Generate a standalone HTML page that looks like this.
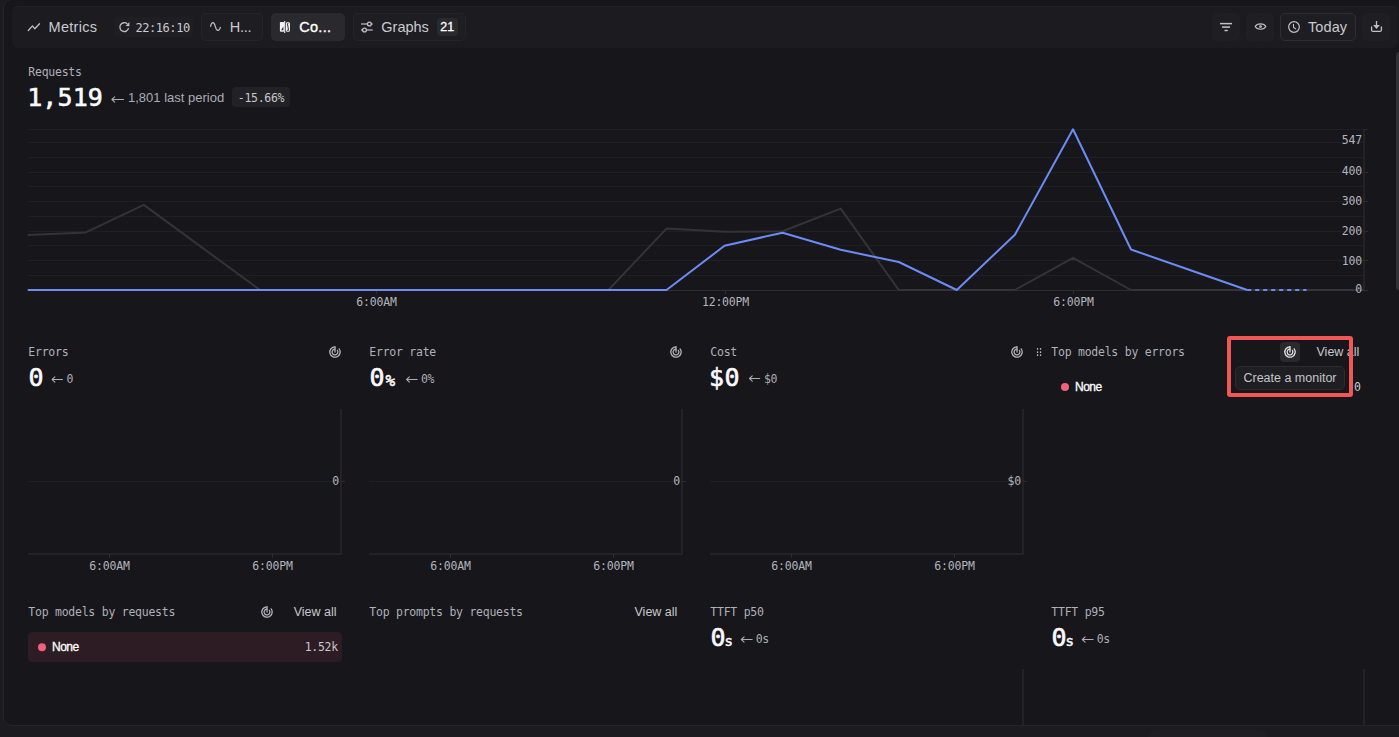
<!DOCTYPE html>
<html><head><meta charset="utf-8">
<style>
*{box-sizing:border-box;margin:0;padding:0}
html,body{width:1399px;height:737px;overflow:hidden;background:#1b1b20;font-family:"Liberation Sans", sans-serif}
.abs{position:absolute}
svg{position:absolute;left:0;top:0}
</style></head><body>
<div class="abs" style="left:3px;top:-1px;width:1410px;height:727px;background:#16161b;border:1px solid #232328;border-radius:9px"></div>
<div class="abs" style="left:12px;top:6px;width:1386px;height:42px;background:#1c1c20;border:1px solid #1c1c20;border-top-color:#212125;border-radius:6px"></div>
<div class="abs" style="left:114px;top:17px;width:79px;height:20px;background:#1f1f23;border-radius:4px;"></div>
<div class="abs" style="left:201px;top:13px;width:62px;height:28px;background:#1e1e22;border:1px solid #252529;border-radius:5px;"></div>
<div class="abs" style="left:271px;top:13px;width:74px;height:28px;background:#2a2a2e;border-radius:5px;"></div>
<div class="abs" style="left:353px;top:13px;width:113px;height:28px;background:#1e1e22;border:1px solid #252529;border-radius:5px;"></div>
<div class="abs" style="left:437px;top:18px;width:21px;height:18px;background:#2a2a2e;border-radius:4px;"></div>
<div class="abs" style="left:1212px;top:13px;width:28px;height:28px;background:#1f1f23;border-radius:5px;"></div>
<div class="abs" style="left:1246px;top:13px;width:28px;height:28px;background:#1f1f23;border-radius:5px;"></div>
<div class="abs" style="left:1280px;top:13px;width:76px;height:28px;background:#1e1e22;border:1px solid #2e2e33;border-radius:5px;"></div>
<div class="abs" style="left:1362px;top:13px;width:28px;height:28px;background:#1f1f23;border-radius:5px;"></div>
<div class="abs" style="left:232px;top:87px;width:58px;height:20px;background:#222226;border-radius:4px;"></div>
<div class="abs" style="left:1280px;top:342px;width:20px;height:20px;background:#2a2a2e;border-radius:4px;"></div>
<div class="abs" style="left:1235px;top:366px;width:110px;height:24px;background:#1f1f23;border:1px solid #2c2c30;border-radius:5px;"></div>
<div class="abs" style="left:28px;top:632px;width:314px;height:30px;background:#2d1c23;border-radius:4px;"></div>
<div class="abs" style="left:1148px;top:730px;width:119px;height:12px;background:#1f1f23;border-radius:6px;"></div>
<div class="abs" style="left:1396px;top:52px;width:6px;height:238px;background:#303035;border-radius:3px;"></div>
<svg width="1399" height="737" viewBox="0 0 1399 737">
<path d="M28.3 30.5 L32.5 25.9 L34.8 28.8 L39.5 23.8" fill="none" stroke="#c0c0c8" stroke-width="1.3" stroke-linecap="round" stroke-linejoin="round"/>
<path d="M128.55 28.2 A4.4 4.4 0 1 1 127.3 23.9" fill="none" stroke="#c0c0c8" stroke-width="1.3"/><path d="M129.4 22.1 L129.4 26.3 L125.6 25.9 Z" fill="#c0c0c8"/>
<path d="M210.6 26.3 C211.8 21.2 214 21.6 215.2 26.2 C216.4 31.4 219.2 31.6 220.3 27.4" fill="none" stroke="#c0c0c8" stroke-width="1.2" stroke-linecap="round"/>
<rect x="279.9" y="21.9" width="4.4" height="9.8" rx="0.9" fill="#f4f4f5"/><path d="M283.4 26.3 L283.4 30.3 L281.2 30.3 Z" fill="#2a2a2e"/><rect x="286.5" y="22.7" width="2.9" height="8.5" rx="0.8" fill="none" stroke="#f4f4f5" stroke-width="1.1"/><path d="M288.7 23.4 L287.4 29.8" stroke="#f4f4f5" stroke-width="0.9"/><line x1="284.7" x2="284.7" y1="20.9" y2="32.9" stroke="#f4f4f5" stroke-width="1.1"/>
<path d="M361 24 H372.7 M361 30 H372.7" stroke="#a0a0a8" stroke-width="1.5"/><circle cx="369.4" cy="24" r="1.9" fill="#1e1e22" stroke="#c0c0c8" stroke-width="1.3"/><circle cx="364.5" cy="30" r="1.9" fill="#1e1e22" stroke="#c0c0c8" stroke-width="1.3"/>
<path d="M1220 23.6 H1232" stroke="#c0c0c8" stroke-width="1.5"/><path d="M1222 27.1 H1230" stroke="#a9a9b1" stroke-width="1.8"/><rect x="1224.3" y="29.7" width="3.6" height="1.5" rx="0.75" fill="#c0c0c8"/>
<path d="M1255.2 26.5 C1257 22.9 1264 22.9 1265.8 26.5 C1264 30.1 1257 30.1 1255.2 26.5 Z" fill="none" stroke="#c0c0c8" stroke-width="1.15"/><circle cx="1260.5" cy="26.5" r="1.5" fill="#a9a9b1"/>
<circle cx="1294" cy="27" r="5.35" fill="none" stroke="#c0c0c8" stroke-width="1.2"/><path d="M1293.5 24.2 V27.3 L1295.7 28.9" fill="none" stroke="#c0c0c8" stroke-width="1.15" stroke-linecap="round" stroke-linejoin="round"/>
<path d="M1371.6 26.6 V29.9 Q1371.6 31.4 1373.1 31.4 H1379.9 Q1381.4 31.4 1381.4 29.9 V26.6" fill="none" stroke="#c0c0c8" stroke-width="1.3"/><path d="M1376.5 21 V26" stroke="#c0c0c8" stroke-width="1.3"/><path d="M1373.2 25.1 L1379.8 25.1 L1376.5 28.9 Z" fill="#c0c0c8"/>
<path d="M123.6 99.5 H111.9 M114.7 96.9 L111.9 99.5 L114.7 102.1" fill="none" stroke="#acacb4" stroke-width="1.05" stroke-linejoin="round" stroke-linecap="round"/>
<line x1="28" x2="1364" y1="129.5" y2="129.5" stroke="#1f1f24" shape-rendering="crispEdges"/>
<line x1="28" x2="1364" y1="142.5" y2="142.5" stroke="#1f1f24" shape-rendering="crispEdges"/>
<line x1="28" x2="1364" y1="157.5" y2="157.5" stroke="#1f1f24" shape-rendering="crispEdges"/>
<line x1="28" x2="1364" y1="172.5" y2="172.5" stroke="#1f1f24" shape-rendering="crispEdges"/>
<line x1="28" x2="1364" y1="186.5" y2="186.5" stroke="#1f1f24" shape-rendering="crispEdges"/>
<line x1="28" x2="1364" y1="201.5" y2="201.5" stroke="#1f1f24" shape-rendering="crispEdges"/>
<line x1="28" x2="1364" y1="216.5" y2="216.5" stroke="#1f1f24" shape-rendering="crispEdges"/>
<line x1="28" x2="1364" y1="231.5" y2="231.5" stroke="#1f1f24" shape-rendering="crispEdges"/>
<line x1="28" x2="1364" y1="245.5" y2="245.5" stroke="#1f1f24" shape-rendering="crispEdges"/>
<line x1="28" x2="1364" y1="260.5" y2="260.5" stroke="#1f1f24" shape-rendering="crispEdges"/>
<line x1="28" x2="1364" y1="275.5" y2="275.5" stroke="#1f1f24" shape-rendering="crispEdges"/>
<g stroke="#2c2c31" stroke-width="1" shape-rendering="crispEdges"><line x1="28" x2="1368" y1="290.5" y2="290.5"/><line x1="1364" x2="1368" y1="129.5" y2="129.5"/><line x1="1364" x2="1368" y1="172.5" y2="172.5"/><line x1="1364" x2="1368" y1="201.5" y2="201.5"/><line x1="1364" x2="1368" y1="231.5" y2="231.5"/><line x1="1364" x2="1368" y1="260.5" y2="260.5"/><line x1="376.5" x2="376.5" y1="290" y2="294"/><line x1="725.5" x2="725.5" y1="290" y2="294"/><line x1="1073.5" x2="1073.5" y1="290" y2="294"/></g>
<line x1="1364" x2="1364" y1="129" y2="291" stroke="#2e2e34"/>
<path d="M27.7 234.9 L85.8 232.4 L143.8 204.9 L201.9 247.4 L260.0 290.0 L318.1 290.0 L376.1 290.0 L434.2 290.0 L492.3 290.0 L550.3 290.0 L608.4 290.0 L666.5 228.6 L724.5 231.8 L782.6 231.2 L840.7 208.6 L898.8 290.0 L956.8 290.0 L1014.9 290.0 L1073.0 257.8 L1131.0 290.0 L1189.1 290.0 L1247.2 290.0 L1305.2 290.0 L1363.3 290.0" fill="none" stroke="#333338" stroke-width="2" stroke-linejoin="round"/>
<path d="M27.7 290.0 L85.8 290.0 L143.8 290.0 L201.9 290.0 L260.0 290.0 L318.1 290.0 L376.1 290.0 L434.2 290.0 L492.3 290.0 L550.3 290.0 L608.4 290.0 L666.5 290.0 L724.5 245.8 L782.6 232.7 L840.7 249.8 L898.8 262.0 L956.8 290.0 L1014.9 234.7 L1073.0 129.3 L1131.0 249.5 L1189.1 269.8 L1247.2 290.0" fill="none" stroke="#6b8cf5" stroke-width="2" stroke-linejoin="round"/>
<path d="M1247.2 290 L1306.5 290" fill="none" stroke="#6b8cf5" stroke-width="2" stroke-dasharray="4 4"/>
<path d="M62.5 379.5 H52.1 M54.9 376.9 L52.1 379.5 L54.9 382.1" fill="none" stroke="#acacb4" stroke-width="1.05" stroke-linejoin="round" stroke-linecap="round"/>
<g transform="translate(329,346)" fill="none" stroke="#b4b4bc" stroke-width="1.25" stroke-linecap="round"><path d="M6 0.8 A5.2 5.2 0 1 0 10.15 2.87"/><path d="M6 3.1 A2.9 2.9 0 1 0 8.38 4.34"/><path d="M6 0.8 V6"/></g>
<line x1="28" x2="341" y1="481.5" y2="481.5" stroke="#1f1f24" shape-rendering="crispEdges"/>
<g stroke="#2e2e34" stroke-width="1"><line x1="28" x2="341" y1="554" y2="554"/><line x1="341" x2="341" y1="409" y2="554.5"/></g>
<g stroke="#2c2c31" stroke-width="1" shape-rendering="crispEdges"><line x1="341" x2="345" y1="481.5" y2="481.5"/><line x1="109.5" x2="109.5" y1="554" y2="558"/><line x1="272.5" x2="272.5" y1="554" y2="558"/></g>
<path d="M417.2 379.5 H406.6 M409.4 376.9 L406.6 379.5 L409.4 382.1" fill="none" stroke="#acacb4" stroke-width="1.05" stroke-linejoin="round" stroke-linecap="round"/>
<g transform="translate(670,346)" fill="none" stroke="#b4b4bc" stroke-width="1.25" stroke-linecap="round"><path d="M6 0.8 A5.2 5.2 0 1 0 10.15 2.87"/><path d="M6 3.1 A2.9 2.9 0 1 0 8.38 4.34"/><path d="M6 0.8 V6"/></g>
<line x1="369" x2="682" y1="481.5" y2="481.5" stroke="#1f1f24" shape-rendering="crispEdges"/>
<g stroke="#2e2e34" stroke-width="1"><line x1="369" x2="682" y1="554" y2="554"/><line x1="682" x2="682" y1="409" y2="554.5"/></g>
<g stroke="#2c2c31" stroke-width="1" shape-rendering="crispEdges"><line x1="682" x2="686" y1="481.5" y2="481.5"/><line x1="450.5" x2="450.5" y1="554" y2="558"/><line x1="613.5" x2="613.5" y1="554" y2="558"/></g>
<path d="M759.7 378.5 H749.5 M752.3 375.9 L749.5 378.5 L752.3 381.1" fill="none" stroke="#acacb4" stroke-width="1.05" stroke-linejoin="round" stroke-linecap="round"/>
<g transform="translate(1011,346)" fill="none" stroke="#b4b4bc" stroke-width="1.25" stroke-linecap="round"><path d="M6 0.8 A5.2 5.2 0 1 0 10.15 2.87"/><path d="M6 3.1 A2.9 2.9 0 1 0 8.38 4.34"/><path d="M6 0.8 V6"/></g>
<line x1="710" x2="1023" y1="481.5" y2="481.5" stroke="#1f1f24" shape-rendering="crispEdges"/>
<g stroke="#2e2e34" stroke-width="1"><line x1="710" x2="1023" y1="554" y2="554"/><line x1="1023" x2="1023" y1="409" y2="554.5"/></g>
<g stroke="#2c2c31" stroke-width="1" shape-rendering="crispEdges"><line x1="1023" x2="1027" y1="481.5" y2="481.5"/><line x1="791.5" x2="791.5" y1="554" y2="558"/><line x1="954.5" x2="954.5" y1="554" y2="558"/></g>
<rect x="1036.9" y="348.1" width="1.3" height="1.7" rx="0.5" fill="#b8b8c0"/><rect x="1036.9" y="351.2" width="1.3" height="1.7" rx="0.5" fill="#b8b8c0"/><rect x="1036.9" y="354.3" width="1.3" height="1.7" rx="0.5" fill="#b8b8c0"/><rect x="1039.9" y="348.1" width="1.3" height="1.7" rx="0.5" fill="#b8b8c0"/><rect x="1039.9" y="351.2" width="1.3" height="1.7" rx="0.5" fill="#b8b8c0"/><rect x="1039.9" y="354.3" width="1.3" height="1.7" rx="0.5" fill="#b8b8c0"/>
<circle cx="1065" cy="387" r="4" fill="#f2607c"/>
<g transform="translate(1284,346)" fill="none" stroke="#e4e4e7" stroke-width="1.25" stroke-linecap="round"><path d="M6 0.8 A5.2 5.2 0 1 0 10.15 2.87"/><path d="M6 3.1 A2.9 2.9 0 1 0 8.38 4.34"/><path d="M6 0.8 V6"/></g>
<g transform="translate(261,606)" fill="none" stroke="#b4b4bc" stroke-width="1.25" stroke-linecap="round"><path d="M6 0.8 A5.2 5.2 0 1 0 10.15 2.87"/><path d="M6 3.1 A2.9 2.9 0 1 0 8.38 4.34"/><path d="M6 0.8 V6"/></g>
<circle cx="42" cy="647.2" r="4" fill="#f2607c"/>
<path d="M752.2 639.5 H741.3 M744.1 636.9 L741.3 639.5 L744.1 642.1" fill="none" stroke="#acacb4" stroke-width="1.05" stroke-linejoin="round" stroke-linecap="round"/>
<path d="M1093.2 639.5 H1082.3 M1085.1 636.9 L1082.3 639.5 L1085.1 642.1" fill="none" stroke="#acacb4" stroke-width="1.05" stroke-linejoin="round" stroke-linecap="round"/>
<g stroke="#2e2e34"><line x1="1023" x2="1023" y1="669" y2="725"/><line x1="1364" x2="1364" y1="669" y2="725"/></g>
<text x="48.5" y="32" font-family='"Liberation Sans", sans-serif' font-size="14.5" fill="#cacad0" font-weight="normal" text-anchor="start" letter-spacing="0.3">Metrics</text>
<text x="135.5" y="32" font-family='"DejaVu Sans Mono", "Liberation Mono", monospace' font-size="12" fill="#cacad0" font-weight="normal" text-anchor="start" letter-spacing="-0.45">22:16:10</text>
<text x="229.8" y="32" font-family='"Liberation Sans", sans-serif' font-size="14.5" fill="#cacad0" font-weight="normal" text-anchor="start" letter-spacing="-0.3">H...</text>
<text x="299.2" y="32.2" font-family='"Liberation Sans", sans-serif' font-size="14.5" fill="#ffffff" font-weight="normal" text-anchor="start" letter-spacing="0.3" stroke="#ffffff" stroke-width="0.35">Co...</text>
<text x="381.3" y="32" font-family='"Liberation Sans", sans-serif' font-size="14.5" fill="#cacad0" font-weight="normal" text-anchor="start">Graphs</text>
<text x="447.3" y="31" font-family='"Liberation Sans", sans-serif' font-size="12.5" fill="#ffffff" font-weight="normal" text-anchor="middle" stroke="#ffffff" stroke-width="0.3">21</text>
<text x="1308" y="31.7" font-family='"Liberation Sans", sans-serif' font-size="14.5" fill="#cacad0" font-weight="normal" text-anchor="start" letter-spacing="0.1">Today</text>
<text x="28.3" y="76" font-family='"DejaVu Sans Mono", "Liberation Mono", monospace' font-size="11.5" fill="#b0b0b8" font-weight="normal" text-anchor="start" letter-spacing="-0.25">Requests</text>
<text x="27.2" y="106" font-family='"DejaVu Sans Mono", "Liberation Mono", monospace' font-size="25" fill="#fafafa" font-weight="normal" text-anchor="start" letter-spacing="0.1" stroke="#fafafa" stroke-width="0.6">1,519</text>
<text x="128" y="102" font-family='"Liberation Sans", sans-serif' font-size="13" fill="#acacb4" font-weight="normal" text-anchor="start">1,801 last period</text>
<text x="261" y="101.5" font-family='"DejaVu Sans Mono", "Liberation Mono", monospace' font-size="11.5" fill="#c8c8cc" font-weight="normal" text-anchor="middle" letter-spacing="-0.3">-15.66%</text>
<text x="1362" y="144" font-family='"DejaVu Sans Mono", "Liberation Mono", monospace' font-size="11.5" fill="#b4b4bc" font-weight="normal" text-anchor="end" letter-spacing="-0.2">547</text>
<text x="1362" y="175" font-family='"DejaVu Sans Mono", "Liberation Mono", monospace' font-size="11.5" fill="#b4b4bc" font-weight="normal" text-anchor="end" letter-spacing="-0.2">400</text>
<text x="1362" y="205" font-family='"DejaVu Sans Mono", "Liberation Mono", monospace' font-size="11.5" fill="#b4b4bc" font-weight="normal" text-anchor="end" letter-spacing="-0.2">300</text>
<text x="1362" y="234.5" font-family='"DejaVu Sans Mono", "Liberation Mono", monospace' font-size="11.5" fill="#b4b4bc" font-weight="normal" text-anchor="end" letter-spacing="-0.2">200</text>
<text x="1362" y="264.5" font-family='"DejaVu Sans Mono", "Liberation Mono", monospace' font-size="11.5" fill="#b4b4bc" font-weight="normal" text-anchor="end" letter-spacing="-0.2">100</text>
<text x="1362" y="293" font-family='"DejaVu Sans Mono", "Liberation Mono", monospace' font-size="11.5" fill="#b4b4bc" font-weight="normal" text-anchor="end" letter-spacing="-0.2">0</text>
<text x="376.5" y="306" font-family='"DejaVu Sans Mono", "Liberation Mono", monospace' font-size="11.5" fill="#b4b4bc" font-weight="normal" text-anchor="middle" letter-spacing="-0.2">6:00AM</text>
<text x="725.5" y="306" font-family='"DejaVu Sans Mono", "Liberation Mono", monospace' font-size="11.5" fill="#b4b4bc" font-weight="normal" text-anchor="middle" letter-spacing="-0.2">12:00PM</text>
<text x="1073.5" y="306" font-family='"DejaVu Sans Mono", "Liberation Mono", monospace' font-size="11.5" fill="#b4b4bc" font-weight="normal" text-anchor="middle" letter-spacing="-0.2">6:00PM</text>
<text x="28.3" y="356" font-family='"DejaVu Sans Mono", "Liberation Mono", monospace' font-size="11.5" fill="#b0b0b8" font-weight="normal" text-anchor="start" letter-spacing="-0.25">Errors</text>
<text x="28.5" y="386" font-family='"DejaVu Sans Mono", "Liberation Mono", monospace' font-size="25" fill="#fafafa" font-weight="normal" text-anchor="start" letter-spacing="0.4" stroke="#fafafa" stroke-width="0.6">0</text>
<text x="66.5" y="383" font-family='"DejaVu Sans Mono", "Liberation Mono", monospace' font-size="11.5" fill="#acacb4" font-weight="normal" text-anchor="start" letter-spacing="-0.4">0</text>
<text x="109.5" y="569.5" font-family='"DejaVu Sans Mono", "Liberation Mono", monospace' font-size="11.5" fill="#b4b4bc" font-weight="normal" text-anchor="middle" letter-spacing="-0.2">6:00AM</text>
<text x="272.5" y="569.5" font-family='"DejaVu Sans Mono", "Liberation Mono", monospace' font-size="11.5" fill="#b4b4bc" font-weight="normal" text-anchor="middle" letter-spacing="-0.2">6:00PM</text>
<text x="339" y="485" font-family='"DejaVu Sans Mono", "Liberation Mono", monospace' font-size="11.5" fill="#b4b4bc" font-weight="normal" text-anchor="end" letter-spacing="-0.2">0</text>
<text x="369.3" y="356" font-family='"DejaVu Sans Mono", "Liberation Mono", monospace' font-size="11.5" fill="#b0b0b8" font-weight="normal" text-anchor="start" letter-spacing="-0.25">Error rate</text>
<text x="369.5" y="386" font-family='"DejaVu Sans Mono", "Liberation Mono", monospace' fill="#fafafa" stroke="#fafafa" stroke-width="0.6" font-size="25" letter-spacing="0.4">0<tspan font-size="16" dx="0.5" stroke-width="0.5">%</tspan></text>
<text x="421" y="383" font-family='"DejaVu Sans Mono", "Liberation Mono", monospace' font-size="11.5" fill="#acacb4" font-weight="normal" text-anchor="start" letter-spacing="-0.4">0%</text>
<text x="450.5" y="569.5" font-family='"DejaVu Sans Mono", "Liberation Mono", monospace' font-size="11.5" fill="#b4b4bc" font-weight="normal" text-anchor="middle" letter-spacing="-0.2">6:00AM</text>
<text x="613.5" y="569.5" font-family='"DejaVu Sans Mono", "Liberation Mono", monospace' font-size="11.5" fill="#b4b4bc" font-weight="normal" text-anchor="middle" letter-spacing="-0.2">6:00PM</text>
<text x="680" y="485" font-family='"DejaVu Sans Mono", "Liberation Mono", monospace' font-size="11.5" fill="#b4b4bc" font-weight="normal" text-anchor="end" letter-spacing="-0.2">0</text>
<text x="710.3" y="356" font-family='"DejaVu Sans Mono", "Liberation Mono", monospace' font-size="11.5" fill="#b0b0b8" font-weight="normal" text-anchor="start" letter-spacing="-0.25">Cost</text>
<text x="709.0" y="386" font-family='"DejaVu Sans Mono", "Liberation Mono", monospace' font-size="25" fill="#fafafa" font-weight="normal" text-anchor="start" letter-spacing="0.4" stroke="#fafafa" stroke-width="0.6">$0</text>
<text x="763.9" y="383" font-family='"DejaVu Sans Mono", "Liberation Mono", monospace' font-size="11.5" fill="#acacb4" font-weight="normal" text-anchor="start" letter-spacing="-0.4">$0</text>
<text x="791.5" y="569.5" font-family='"DejaVu Sans Mono", "Liberation Mono", monospace' font-size="11.5" fill="#b4b4bc" font-weight="normal" text-anchor="middle" letter-spacing="-0.2">6:00AM</text>
<text x="954.5" y="569.5" font-family='"DejaVu Sans Mono", "Liberation Mono", monospace' font-size="11.5" fill="#b4b4bc" font-weight="normal" text-anchor="middle" letter-spacing="-0.2">6:00PM</text>
<text x="1021" y="485" font-family='"DejaVu Sans Mono", "Liberation Mono", monospace' font-size="11.5" fill="#b4b4bc" font-weight="normal" text-anchor="end" letter-spacing="-0.2">$0</text>
<text x="1051.3" y="356" font-family='"DejaVu Sans Mono", "Liberation Mono", monospace' font-size="11.5" fill="#b0b0b8" font-weight="normal" text-anchor="start" letter-spacing="-0.25">Top models by errors</text>
<text x="1075" y="391" font-family='"Liberation Sans", sans-serif' font-size="12" fill="#fafafa" font-weight="normal" text-anchor="start" letter-spacing="-0.5" stroke="#fafafa" stroke-width="0.35">None</text>
<text x="1361" y="391" font-family='"DejaVu Sans Mono", "Liberation Mono", monospace' font-size="11.5" fill="#c8c8cc" font-weight="normal" text-anchor="end">0</text>
<text x="1316.5" y="356" font-family='"Liberation Sans", sans-serif' font-size="12.5" fill="#c8c8cc" font-weight="normal" text-anchor="start">View all</text>
<text x="1290" y="382.3" font-family='"Liberation Sans", sans-serif' font-size="12.5" fill="#c4c4cc" font-weight="normal" text-anchor="middle">Create a monitor</text>
<text x="28.3" y="616" font-family='"DejaVu Sans Mono", "Liberation Mono", monospace' font-size="11.5" fill="#b0b0b8" font-weight="normal" text-anchor="start" letter-spacing="-0.25">Top models by requests</text>
<text x="293.7" y="616" font-family='"Liberation Sans", sans-serif' font-size="12.5" fill="#c8c8cc" font-weight="normal" text-anchor="start">View all</text>
<text x="52" y="651.2" font-family='"Liberation Sans", sans-serif' font-size="12" fill="#fafafa" font-weight="normal" text-anchor="start" letter-spacing="-0.5" stroke="#fafafa" stroke-width="0.35">None</text>
<text x="337.8" y="651.3" font-family='"DejaVu Sans Mono", "Liberation Mono", monospace' font-size="11.5" fill="#c8c8cc" font-weight="normal" text-anchor="end" letter-spacing="-0.3">1.52k</text>
<text x="369.3" y="616" font-family='"DejaVu Sans Mono", "Liberation Mono", monospace' font-size="11.5" fill="#b0b0b8" font-weight="normal" text-anchor="start" letter-spacing="-0.25">Top prompts by requests</text>
<text x="634.5" y="616" font-family='"Liberation Sans", sans-serif' font-size="12.5" fill="#c8c8cc" font-weight="normal" text-anchor="start">View all</text>
<text x="710.3" y="616" font-family='"DejaVu Sans Mono", "Liberation Mono", monospace' font-size="11.5" fill="#b0b0b8" font-weight="normal" text-anchor="start" letter-spacing="-0.25">TTFT p50</text>
<text x="710.5" y="646" font-family='"DejaVu Sans Mono", "Liberation Mono", monospace' fill="#fafafa" stroke="#fafafa" stroke-width="0.6" font-size="25" letter-spacing="0.4">0<tspan font-size="14" dx="-1.5" stroke-width="0.5">s</tspan></text>
<text x="755.7" y="643" font-family='"DejaVu Sans Mono", "Liberation Mono", monospace' font-size="11.5" fill="#acacb4" font-weight="normal" text-anchor="start" letter-spacing="-0.4">0s</text>
<text x="1051.3" y="616" font-family='"DejaVu Sans Mono", "Liberation Mono", monospace' font-size="11.5" fill="#b0b0b8" font-weight="normal" text-anchor="start" letter-spacing="-0.25">TTFT p95</text>
<text x="1051.5" y="646" font-family='"DejaVu Sans Mono", "Liberation Mono", monospace' fill="#fafafa" stroke="#fafafa" stroke-width="0.6" font-size="25" letter-spacing="0.4">0<tspan font-size="14" dx="-1.5" stroke-width="0.5">s</tspan></text>
<text x="1096.7" y="643" font-family='"DejaVu Sans Mono", "Liberation Mono", monospace' font-size="11.5" fill="#acacb4" font-weight="normal" text-anchor="start" letter-spacing="-0.4">0s</text>
</svg>
<div class="abs" style="left:1227px;top:336px;width:126px;height:61px;border:4px solid #f25757;border-radius:3px"></div>
</body></html>
